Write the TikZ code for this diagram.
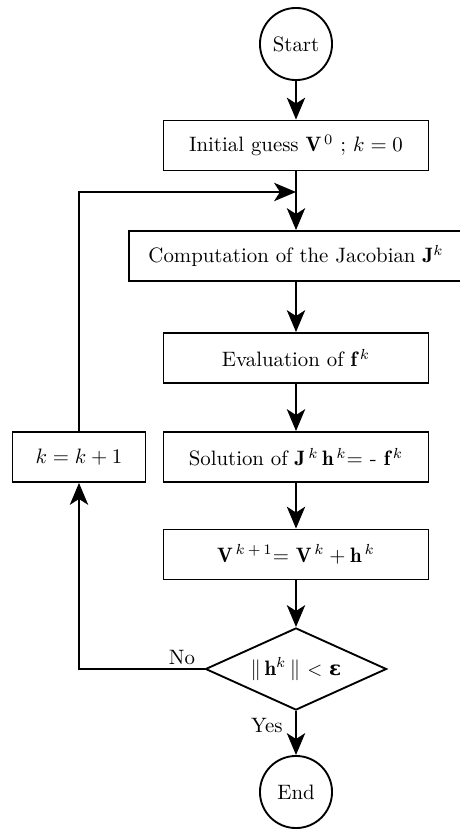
\documentclass[tikz,border=0pt]{standalone}
\usepackage{amsmath,amssymb}
\usepackage{fontspec}
\newfontfamily\epsfont{DejaVu Serif}
\usetikzlibrary{shapes.geometric,arrows.meta}
\begin{document}
\begin{tikzpicture}[x=0.48pt,y=-0.48pt,
  every node/.style={font=\fontsize{10}{12}\selectfont},
  box/.style={draw,line width=0.9pt,rectangle,minimum width=127.2pt,minimum height=24pt,inner sep=0pt},
  circ/.style={draw,line width=0.9pt,circle,minimum size=34.6pt,inner sep=0pt},
  dia/.style={draw,line width=0.9pt,diamond,shape aspect=2.2,minimum width=86.9pt,minimum height=39.4pt,inner sep=0pt},
  arr/.style={line width=0.9pt,-{Stealth[length=10.5pt,width=8.8pt,inset=2.8pt]}},
  lab/.style={font=\fontsize{10}{12}\selectfont}
]
\useasboundingbox (0,0) rectangle (460,829);
\node[circ] (start) at (296,44) {Start};
\node[box] (init) at (296,145.5) {Initial guess $\mathbf{V}^{\,0}$ ; $k=0$};
\coordinate (j) at (296,192);
\node[box,minimum width=160.3pt] (jac) at (296,256) {Computation of the Jacobian $\mathbf{J}^k$};
\node[box] (eval) at (296,358) {Evaluation of $\mathbf{f}^{\,k}$};
\node[box] (sol) at (296,457) {Solution of $\mathbf{J}^{\,k}\,\mathbf{h}^{\,k}$= - $\mathbf{f}^{\,k}$};
\node[box,minimum width=63.8pt] (kk) at (79,457) {$k=k+1$};
\node[box] (upd) at (296,554.5) {$\mathbf{V}^{\,k\,+\,1}$= $\mathbf{V}^{\,k} + \mathbf{h}^{\,k}$};
\node[dia] (dec) at (296,669) {$\|\,\mathbf{h}^k\,\|$ {\fontsize{9}{10}\selectfont$<$} {\epsfont\bfseries\fontsize{9.5}{10}\selectfont ε}};
\node[circ] (end) at (296,792) {End};

\draw[arr] (start) -- (init);
\draw[arr] (init) -- (jac);
\draw[arr] (jac) -- (eval);
\draw[arr] (eval) -- (sol);
\draw[arr] (sol) -- (upd);
\draw[arr] (upd) -- (dec);
\draw[arr] (dec) -- node[lab,left,pos=0.33,inner sep=6pt] (yes) {Yes} (end);
\draw[arr] (dec.west) -| node[lab,above,pos=0.09,inner sep=1.5pt] (no) {No} (kk.south);
\draw[arr] (kk.north) |- (j);
\end{tikzpicture}
\end{document}
